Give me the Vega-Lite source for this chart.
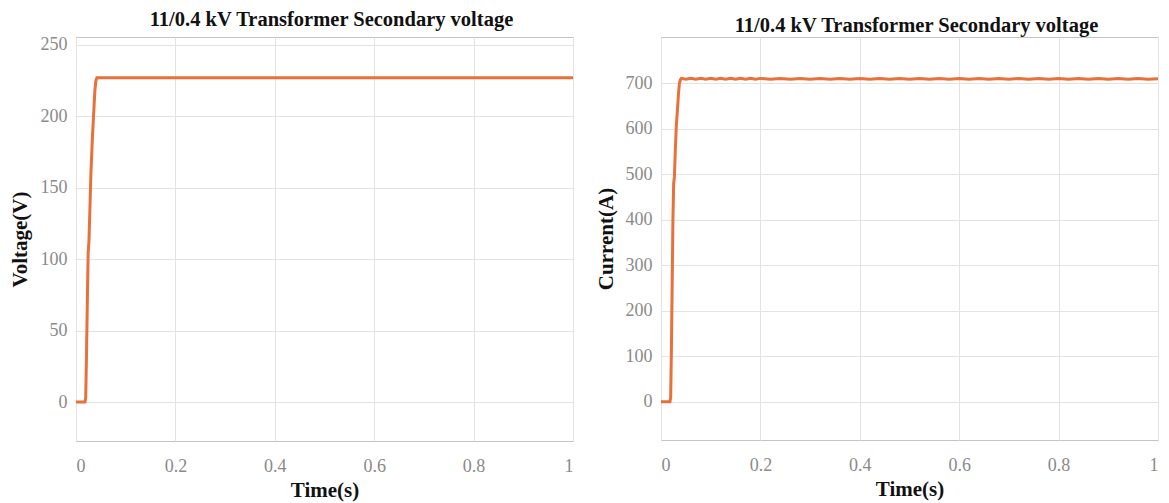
{
  "$schema": "https://vega.github.io/schema/vega-lite/v6.json",
  "background": "white",
  "padding": {"left": 8, "top": 9, "right": 5, "bottom": 2},
  "spacing": 20,
  "datasets": {
    "v": [
      {"t": 0, "y": 0}, {"t": 0.01, "y": 0}, {"t": 0.018, "y": 0}, {"t": 0.0195, "y": 3},
      {"t": 0.021, "y": 30}, {"t": 0.023, "y": 75}, {"t": 0.0245, "y": 105}, {"t": 0.026, "y": 112},
      {"t": 0.028, "y": 135}, {"t": 0.03, "y": 160}, {"t": 0.033, "y": 185}, {"t": 0.036, "y": 205},
      {"t": 0.038, "y": 218}, {"t": 0.04, "y": 225}, {"t": 0.042, "y": 227}, {"t": 0.2, "y": 227},
      {"t": 0.4, "y": 227}, {"t": 0.6, "y": 227}, {"t": 0.8, "y": 227}, {"t": 1, "y": 227}
    ],
    "c": [
      {"t": 0, "y": 0}, {"t": 0.01, "y": 0}, {"t": 0.018, "y": 0}, {"t": 0.0195, "y": 10},
      {"t": 0.021, "y": 120}, {"t": 0.0225, "y": 260}, {"t": 0.024, "y": 400}, {"t": 0.0255, "y": 480},
      {"t": 0.027, "y": 495}, {"t": 0.029, "y": 560}, {"t": 0.031, "y": 610}, {"t": 0.033, "y": 640},
      {"t": 0.035, "y": 675}, {"t": 0.037, "y": 700}, {"t": 0.039, "y": 708}, {"t": 0.041, "y": 711},
      {"t": 0.05, "y": 709}, {"t": 0.06, "y": 711}, {"t": 0.07, "y": 709}, {"t": 0.08, "y": 711},
      {"t": 0.09, "y": 709}, {"t": 0.1, "y": 711}, {"t": 0.11, "y": 709}, {"t": 0.12, "y": 711},
      {"t": 0.13, "y": 709}, {"t": 0.14, "y": 711}, {"t": 0.15, "y": 709}, {"t": 0.16, "y": 711},
      {"t": 0.17, "y": 709}, {"t": 0.18, "y": 711}, {"t": 0.19, "y": 709}, {"t": 0.2, "y": 711},
      {"t": 0.22, "y": 709}, {"t": 0.24, "y": 711}, {"t": 0.26, "y": 709}, {"t": 0.28, "y": 711},
      {"t": 0.3, "y": 709}, {"t": 0.32, "y": 711}, {"t": 0.34, "y": 709}, {"t": 0.36, "y": 711},
      {"t": 0.38, "y": 709}, {"t": 0.4, "y": 711}, {"t": 0.42, "y": 709}, {"t": 0.44, "y": 711},
      {"t": 0.46, "y": 709}, {"t": 0.48, "y": 711}, {"t": 0.5, "y": 709}, {"t": 0.52, "y": 711},
      {"t": 0.54, "y": 709}, {"t": 0.56, "y": 711}, {"t": 0.58, "y": 709}, {"t": 0.6, "y": 711},
      {"t": 0.62, "y": 709}, {"t": 0.64, "y": 711}, {"t": 0.66, "y": 709}, {"t": 0.68, "y": 711},
      {"t": 0.7, "y": 709}, {"t": 0.72, "y": 711}, {"t": 0.74, "y": 709}, {"t": 0.76, "y": 711},
      {"t": 0.78, "y": 709}, {"t": 0.8, "y": 711}, {"t": 0.82, "y": 709}, {"t": 0.84, "y": 711},
      {"t": 0.86, "y": 709}, {"t": 0.88, "y": 711}, {"t": 0.9, "y": 709}, {"t": 0.92, "y": 711},
      {"t": 0.94, "y": 709}, {"t": 0.96, "y": 711}, {"t": 0.98, "y": 709}, {"t": 1, "y": 710}
    ]
  },
  "config": {
    "font": "Liberation Serif",
    "view": {"stroke": "#c4c4c4", "strokeWidth": 1},
    "axis": {
      "domain": false,
      "ticks": false,
      "grid": true,
      "gridColor": "#e3e3e3",
      "gridWidth": 1,
      "labelFont": "Liberation Serif",
      "labelFontSize": 18,
      "labelColor": "#8a8a8a",
      "titleFont": "Liberation Serif",
      "titleFontSize": 21,
      "titleFontWeight": "bold",
      "titleColor": "#111111"
    },
    "title": {
      "font": "Liberation Serif",
      "fontSize": 20.5,
      "fontWeight": "bold",
      "color": "#111111",
      "offset": 5,
      "dx": 7
    }
  },
  "hconcat": [
    {
      "width": 497,
      "height": 404,
      "title": "11/0.4 kV Transformer Secondary voltage",
      "data": {"name": "v"},
      "mark": {"type": "line", "color": "#e8703a", "strokeWidth": 3, "clip": true},
      "encoding": {
        "x": {"field": "t", "type": "quantitative", "title": "Time(s)",
              "scale": {"domain": [0, 1], "nice": false},
              "axis": {"values": [0, 0.2, 0.4, 0.6, 0.8, 1], "format": "~g", "labelPadding": 16, "titlePadding": 4}},
        "y": {"field": "y", "type": "quantitative", "title": "Voltage(V)",
              "scale": {"domain": [-27.3, 255.6], "nice": false, "zero": false},
              "axis": {"values": [0, 50, 100, 150, 200, 250], "labelPadding": 9, "titlePadding": 10}}
      }
    },
    {
      "width": 497,
      "height": 403,
      "title": {"text": "11/0.4 kV Transformer Secondary voltage", "dy": 4},
      "data": {"name": "c"},
      "mark": {"type": "line", "color": "#e8703a", "strokeWidth": 3, "clip": true},
      "encoding": {
        "x": {"field": "t", "type": "quantitative", "title": "Time(s)",
              "scale": {"domain": [0, 1], "nice": false},
              "axis": {"values": [0, 0.2, 0.4, 0.6, 0.8, 1], "format": "~g", "labelPadding": 16, "titlePadding": 4}},
        "y": {"field": "y", "type": "quantitative", "title": "Current(A)",
              "scale": {"domain": [-84, 802], "nice": false, "zero": false},
              "axis": {"values": [0, 100, 200, 300, 400, 500, 600, 700], "labelPadding": 9, "titlePadding": 9}}
      }
    }
  ]
}
